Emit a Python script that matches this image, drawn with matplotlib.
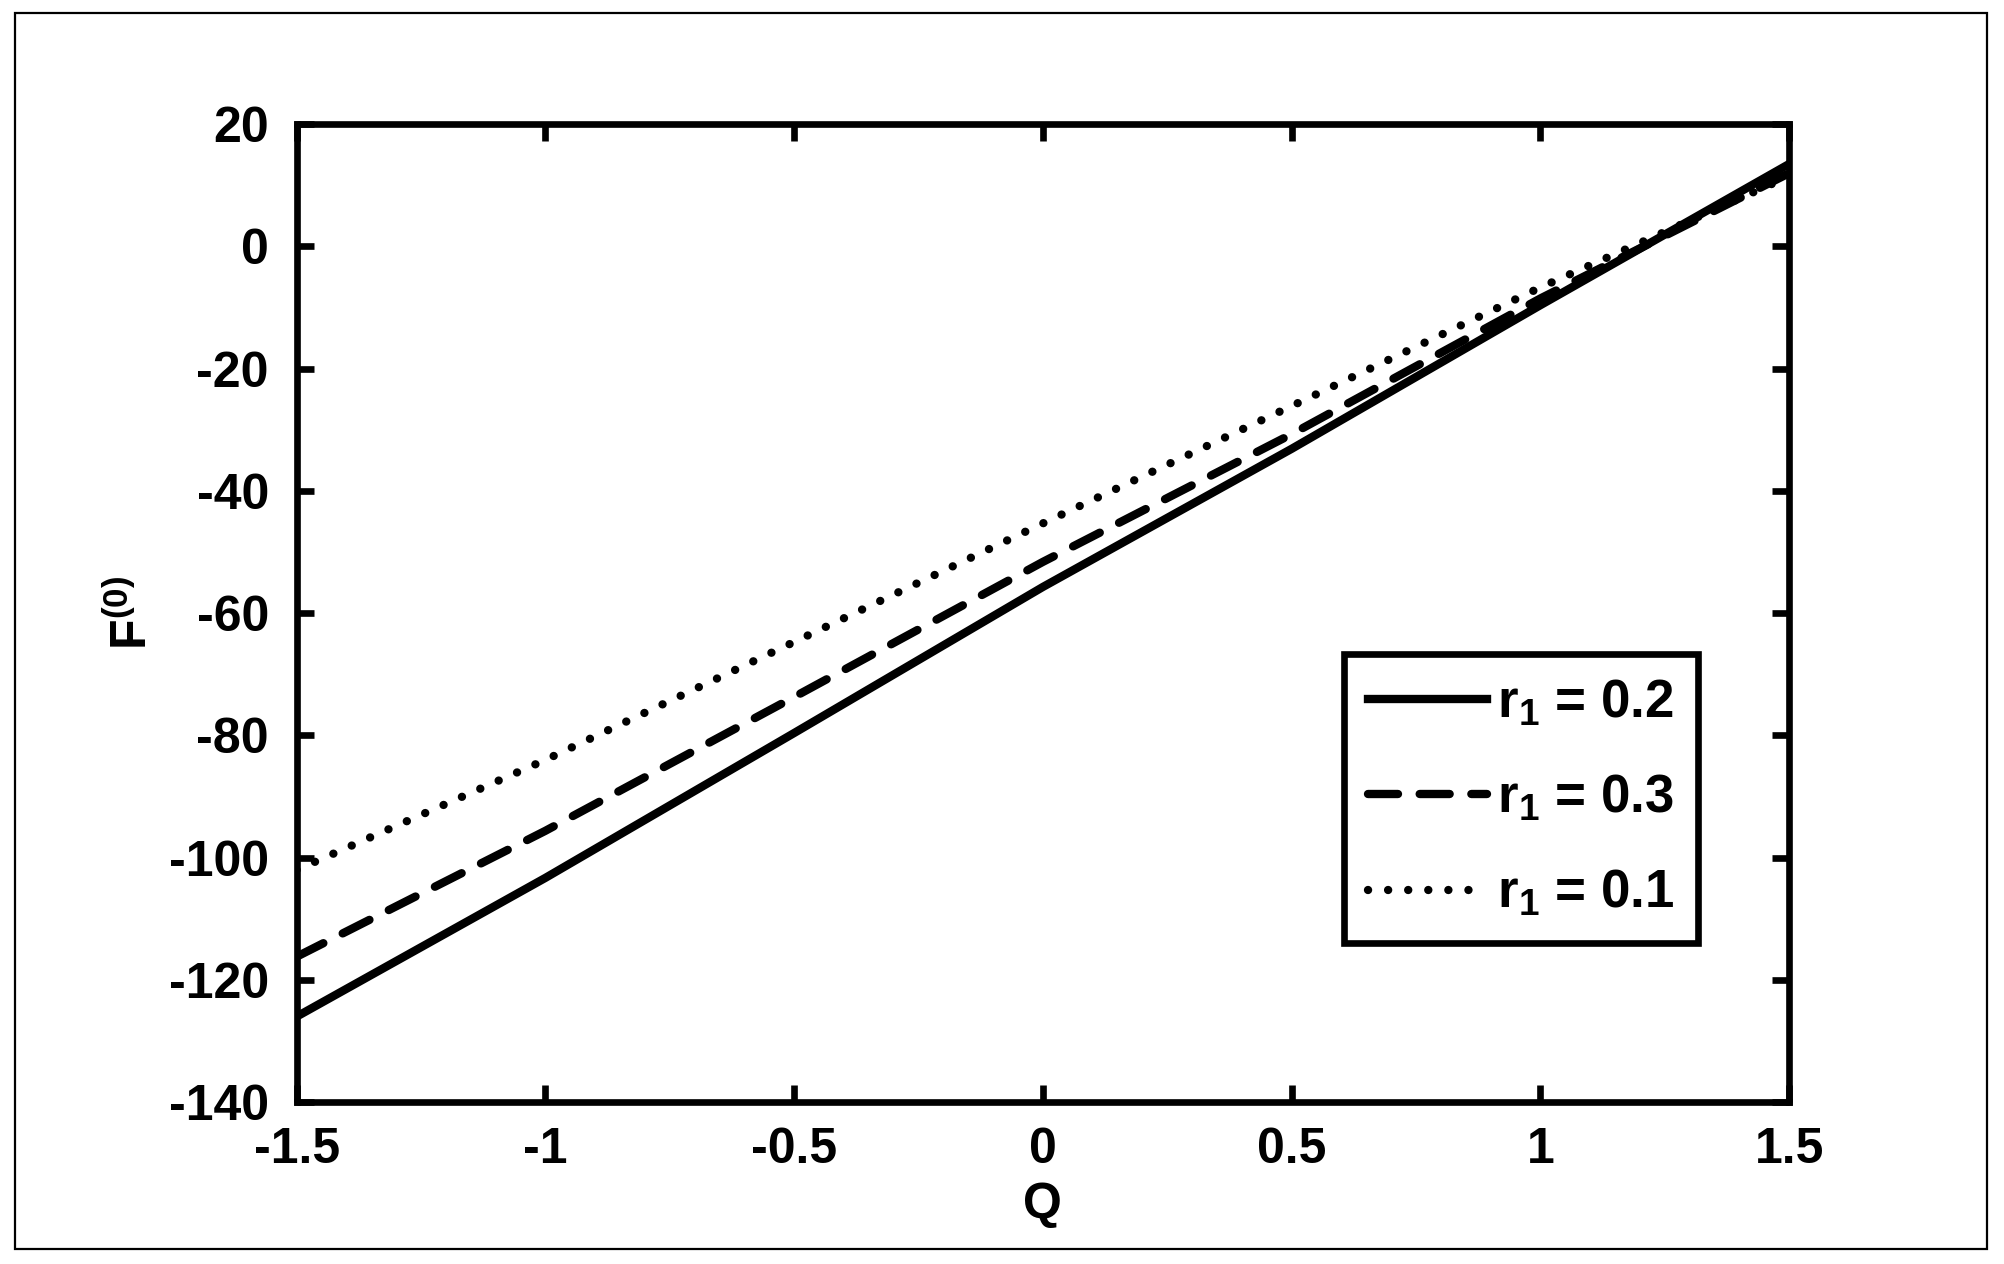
## F(0) versus Q for three values of r1

import matplotlib
matplotlib.use("Agg")
import matplotlib.pyplot as plt
from matplotlib.patches import Rectangle

plt.rcParams['font.family'] = ['Liberation Sans', 'DejaVu Sans']
plt.rcParams['font.weight'] = 'bold'
plt.rcParams['axes.unicode_minus'] = False
plt.rcParams['mathtext.fontset'] = 'custom'
plt.rcParams['mathtext.rm'] = 'Liberation Sans:bold'
plt.rcParams['mathtext.it'] = 'Liberation Sans:bold'
plt.rcParams['mathtext.bf'] = 'Liberation Sans:bold'
plt.rcParams['mathtext.default'] = 'rm'

# Values
Q = [-1.5, -1.0, -0.5, 0.0, 0.5, 1.0, 1.5]
F_r02 = [-126.0, -103.3, -79.6, -55.7, -33.1, -9.6, 13.5]
F_r03 = [-116.2, -95.6, -73.7, -51.6, -30.7, -8.5, 12.0]
F_r01 = [-102.0, -84.0, -64.7, -45.3, -26.1, -6.7, 11.5]
labels = ['r$_1$ = 0.2', 'r$_1$ = 0.3', 'r$_1$ = 0.1']

xticks = [-1.5, -1, -0.5, 0, 0.5, 1, 1.5]
xticklabels = ['-1.5', '-1', '-0.5', '0', '0.5', '1', '1.5']
yticks = [-140, -120, -100, -80, -60, -40, -20, 0, 20]

fs = 36
lw = 6

fig = plt.figure(figsize=(20.04, 12.64), dpi=100)
# thin frame around the whole figure
fig.patches.append(Rectangle((0.0077, 0.012), 0.9838, 0.9777, transform=fig.transFigure,
                             fill=False, edgecolor='black', linewidth=1.6))

ax = fig.add_axes([0.148, 0.128, 0.7448, 0.7737])
ax.plot(Q, F_r02, color='black', linewidth=lw, label=labels[0])
ax.plot(Q, F_r03, color='black', linewidth=lw, linestyle=(0, (3.6, 2.6)),
        dash_capstyle='round', label=labels[1])
ax.plot(Q, F_r01, color='black', linewidth=lw, linestyle=(0, (0.01, 2.4)),
        dash_capstyle='round', label=labels[2])

ax.set_xlim(-1.5, 1.5)
ax.set_ylim(-140, 20)
ax.set_xticks(xticks)
ax.set_xticklabels(xticklabels)
ax.set_yticks(yticks)
for s in ax.spines.values():
    s.set_linewidth(4.8)
ax.tick_params(direction='in', length=12, width=4.8, labelsize=fs,
               top=True, right=True)
ax.tick_params(axis='x', pad=18)
ax.tick_params(axis='y', pad=20)

ax.set_xlabel('Q', fontsize=fs, fontweight='bold', labelpad=6)
ax.set_ylabel('F$^{(0)}$', fontsize=fs, fontweight='bold', labelpad=8)

leg = ax.legend(loc='lower left', bbox_to_anchor=(0.702, 0.163), borderaxespad=0,
                fontsize=38, frameon=True, fancybox=False, edgecolor='black',
                framealpha=1, handlelength=2.25, handletextpad=0.2,
                labelspacing=0.85, borderpad=0.45)
leg.get_frame().set_linewidth(4.8)

fig.savefig('out.png', dpi=100)
